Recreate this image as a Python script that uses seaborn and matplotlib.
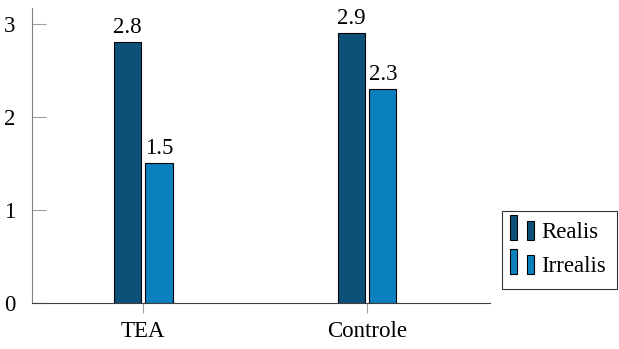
import matplotlib
matplotlib.use("Agg")
import matplotlib.pyplot as plt
from matplotlib.legend_handler import HandlerBase
from matplotlib.patches import Rectangle
import seaborn as sns
import pandas as pd

# Chart data
groups = ["TEA", "Controle"]
realis = [2.8, 2.9]
irrealis = [1.5, 2.3]
series = ["Realis", "Irrealis"]
colors = {"Realis": "#0d5178", "Irrealis": "#0a80bf"}

df = pd.DataFrame({
    "group": groups * 2,
    "value": realis + irrealis,
    "mode": [series[0]] * len(groups) + [series[1]] * len(groups),
})

sns.set_style("white")
plt.rcParams["font.family"] = ["Liberation Serif", "DejaVu Serif"]
plt.rcParams["font.size"] = 16.5
plt.rcParams["text.color"] = "black"
plt.rcParams["xtick.color"] = "black"
plt.rcParams["ytick.color"] = "black"


class TwoBars(HandlerBase):
    # pgfplots style legend image: two small bars
    def create_artists(self, legend, orig_handle, xdescent, ydescent,
                       width, height, fontsize, trans):
        fc = orig_handle.get_facecolor()
        x0, y0 = -xdescent, -ydescent - 0.1 * height
        bw = width * 0.27
        r1 = Rectangle((x0 - width * 0.12, y0), bw, height * 1.55, facecolor=fc,
                       edgecolor="black", linewidth=0.8, transform=trans)
        r2 = Rectangle((x0 + width * 0.5, y0), bw, height * 1.2, facecolor=fc,
                       edgecolor="black", linewidth=0.8, transform=trans)
        return [r1, r2]


fig = plt.figure(figsize=(6.19, 3.49), dpi=100)
ax = fig.add_axes([32 / 619, 1 - 303 / 349, (490 - 32) / 619, (303 - 8) / 349])

sns.barplot(data=df, x="group", y="value", hue="mode", palette=colors,
            saturation=1, width=0.284, gap=0.15, edgecolor="black",
            linewidth=0.8, errorbar=None, ax=ax, legend=False)

for cont in ax.containers:
    ax.bar_label(cont, fmt="%.1f", padding=3, fontsize=16.5, color="black")

ax.set_xlim(-0.496, 1.549)
ax.set_ylim(0, 3.17)
ax.set_yticks([0, 1, 2, 3])
ax.set_xlabel("")
ax.set_ylabel("")

for s in ["top", "right"]:
    ax.spines[s].set_visible(False)
ax.spines["left"].set_color("#808080")
ax.spines["bottom"].set_color("#404040")
ax.tick_params(axis="y", left=True, direction="in", length=10, width=0.8,
               color="#a0a0a0", labelcolor="black", pad=12)
ax.tick_params(axis="x", bottom=True, direction="out", length=7, width=0.8,
               color="#a0a0a0", labelcolor="black", pad=6)

handles = [Rectangle((0, 0), 1, 1, facecolor=colors[s]) for s in series]
leg = fig.legend(handles, series, handler_map={Rectangle: TwoBars()},
                 loc="upper left", bbox_to_anchor=(502 / 619, 1 - 211 / 349),
                 borderaxespad=0, frameon=True, fancybox=False,
                 handlelength=1.15, handletextpad=0.05, borderpad=0.5,
                 labelspacing=0.55, fontsize=16.5)
leg.get_frame().set_edgecolor("black")
leg.get_frame().set_linewidth(0.8)

fig.savefig("out.png", dpi=100)
